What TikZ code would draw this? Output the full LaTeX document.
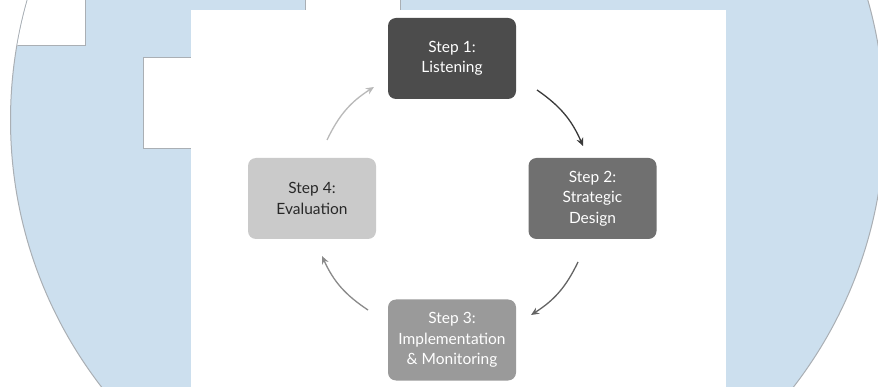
\documentclass[tikz,border=0pt]{standalone}
\usepackage{fontspec}
\setmainfont{Lato}
\usetikzlibrary{arrows.meta}
\definecolor{wblue}{RGB}{204,223,238}
\definecolor{wline}{RGB}{170,175,180}
\definecolor{boxA}{RGB}{76,76,76}
\definecolor{boxB}{RGB}{112,112,112}
\definecolor{boxC}{RGB}{154,154,154}
\definecolor{boxD}{RGB}{202,202,202}
\definecolor{txtD}{RGB}{40,40,40}
\begin{document}
\begin{tikzpicture}[x=1pt,y=-1pt,
  stepbox/.style={rounded corners=8pt, minimum width=128pt, minimum height=81pt,
    align=center, inner sep=0pt, font=\fontsize{15.5}{20.5}\selectfont},
  cyc/.style={line width=1.3pt, -{Stealth[length=8pt,width=7pt]}, bend left=16}]
\useasboundingbox (0,0) rectangle (878,387);
% watermark
\begin{scope}
  \clip (0,0) rectangle (878,387);
  \fill[wblue] (447.5,120) circle[radius=437pt];
  \draw[wline, line width=1pt] (447.5,120) circle[radius=437pt];
  \clip (447.5,120) circle[radius=436.5pt];
  \fill[white] (-5,-5) rectangle (85,46);
  \draw[wline, line width=1pt] (85,-5) -- (85,46) -- (-5,46);
  \fill[white] (305,-5) rectangle (400,10);
  \draw[wline, line width=1pt] (305,-5) -- (305,10) (400,-5) -- (400,10);
  \fill[white] (143,58) rectangle (191,149);
  \draw[wline, line width=1pt] (191,58) -- (143,58) -- (143,149) -- (191,149);
\end{scope}
\fill[white] (191,10) rectangle (726,387);
% boxes
\node[stepbox, fill=boxA, text=white] (s1) at (452,58.5) {Step 1:\\Listening};
\node[stepbox, fill=boxB, text=white] (s2) at (592.5,198.5) {Step 2:\\Strategic\\Design};
\node[stepbox, fill=boxC, text=white] (s3) at (452,340) {Step 3:\\Implementation\\\& Monitoring};
\node[stepbox, fill=boxD, text=txtD] (s4) at (312,198.5) {Step 4:\\Evaluation};
% arrow ends
\coordinate (a1) at (537,90);  \coordinate (b1) at (583,146);
\coordinate (a2) at (578,262); \coordinate (b2) at (531,315);
\coordinate (a3) at (368,310); \coordinate (b3) at (322,256);
\coordinate (a4) at (327,140); \coordinate (b4) at (374,87);
\draw[cyc, color={rgb,255:red,58;green,58;blue,58}] (a1) to (b1);
\draw[cyc, color={rgb,255:red,100;green,100;blue,100}] (a2) to (b2);
\draw[cyc, color={rgb,255:red,138;green,138;blue,138}] (a3) to (b3);
\draw[cyc, color={rgb,255:red,185;green,185;blue,185}] (a4) to (b4);
\end{tikzpicture}
\end{document}
